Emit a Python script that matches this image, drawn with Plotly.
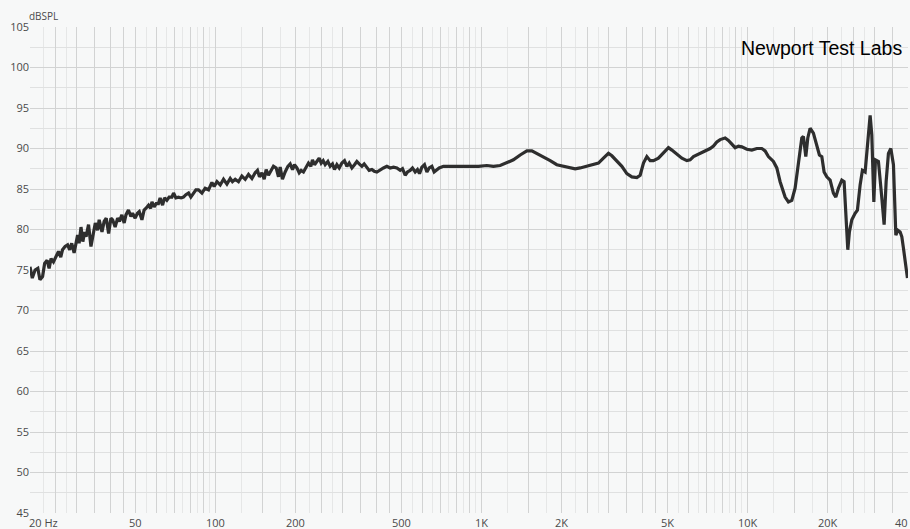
import numpy as np
import plotly.graph_objects as go

# Frequency response, bass band (Hz, dB SPL)
bass_hz = [20.0, 20.4, 20.9, 21.4, 21.8, 22.3, 22.7, 23.2, 23.6, 24.0, 24.5, 25.0, 25.6, 26.1,
           26.5, 27.1, 27.7, 28.2, 28.7, 29.3, 29.8, 30.2, 30.6, 31.1, 31.6, 32.1, 32.5, 33.2,
           33.9, 34.5, 35.2, 35.9, 36.4, 37.3, 38.0, 38.7, 39.5, 40.3, 40.9, 41.8, 42.7, 43.4,
           44.3, 45.2, 45.9, 46.9, 47.9, 48.6, 49.7, 50.7, 51.5, 52.7, 53.7, 54.5, 55.8, 56.8,
           57.5, 58.6, 59.6, 60.8, 61.7, 63.0, 64.1, 65.4, 66.7, 68.3, 69.3, 70.7, 72.3, 74.0,
           75.5, 77.1, 78.9, 80.5, 82.4, 84.1, 86.0]
bass_db = [75.4, 74.0, 75.0, 75.2, 73.8, 74.2, 75.8, 76.2, 75.2, 76.4, 76.0, 76.6, 77.3, 76.6,
           77.5, 77.9, 78.1, 77.5, 78.3, 77.1, 78.7, 79.3, 78.3, 80.3, 78.5, 79.7, 79.1, 80.6,
           77.9, 79.3, 80.8, 79.9, 81.2, 79.7, 81.0, 81.4, 79.5, 81.4, 81.2, 80.3, 81.4, 81.0,
           81.8, 80.8, 81.8, 82.4, 81.6, 82.0, 81.4, 82.0, 82.2, 81.2, 82.4, 82.6, 83.0, 82.6,
           83.4, 82.8, 83.2, 83.2, 83.9, 83.0, 83.9, 83.6, 84.0, 84.0, 84.5, 83.9, 84.0, 83.9,
           84.0, 84.3, 84.5, 84.0, 84.5, 84.9, 84.9]

# Midrange band
mid_hz = [88.6, 91.1, 93.8, 96.6, 98.5, 100.9, 103.8, 106.8, 110.0, 113.2, 115.4, 118.2, 121.6,
          125.2, 128.9, 132.6, 136.6, 140.5, 143.3, 145.8, 148.9, 151.9, 154.5, 157.6, 160.9,
          164.6, 168.5, 171.9, 174.4, 177.9, 182.1, 186.5, 190.2, 194.1, 197.4, 201.6, 205.6,
          209.2, 213.4, 217.9, 222.8, 227.5, 230.7, 234.8, 239.6, 244.5, 248.8, 253.1, 257.5,
          263.6, 268.9, 274.3, 279.1, 285.0, 290.8, 297.6, 304.4, 310.8, 317.0, 324.5, 331.9,
          338.8, 345.7, 353.9, 361.0, 369.5, 376.9, 385.8, 393.6, 402.9, 414.5, 426.6, 439.3,
          452.1, 465.2, 479.1, 493.0, 502.9, 514.8, 525.1, 537.5, 548.3, 561.3, 572.6, 582.6,
          594.9, 608.4, 621.2, 633.7, 648.6, 661.6, 677.2, 690.9, 717.1, 771.3, 840.8, 917.0,
          970.7]
mid_db = [84.5, 85.1, 84.9, 85.8, 85.3, 85.9, 85.5, 86.2, 85.6, 86.3, 85.9, 86.2, 85.9,
          86.6, 86.2, 86.8, 86.3, 87.0, 87.3, 86.5, 87.0, 86.2, 87.4, 86.7, 87.3,
          87.8, 87.6, 86.5, 87.7, 86.2, 87.1, 87.8, 88.1, 87.4, 88.0, 87.6, 87.0,
          87.3, 87.1, 87.6, 88.2, 87.8, 88.6, 88.0, 88.4, 88.8, 88.2, 88.5, 88.0,
          88.4, 87.8, 88.1, 87.4, 88.0, 87.6, 88.2, 88.5, 87.8, 88.2, 87.6, 88.0,
          88.4, 88.1, 87.8, 88.1, 87.7, 87.3, 87.4, 87.2, 87.1, 87.4, 87.6, 87.8,
          87.6, 87.7, 87.6, 87.3, 87.5, 86.7, 87.1, 87.3, 87.6, 87.1, 87.4, 86.9,
          87.7, 88.0, 87.1, 87.6, 87.8, 87.1, 87.4, 87.6, 87.8, 87.8, 87.8, 87.8,
          87.8]

# Presence / treble band
treble_hz = [1044, 1105, 1171, 1241, 1314, 1393, 1476, 1541, 1609, 1704, 1806, 1913, 2025,
             2147, 2242, 2341, 2481, 2627, 2743, 2864, 2991, 3081, 3217, 3359, 3508, 3663,
             3825, 3936, 4050, 4171, 4292, 4416, 4611, 4815, 5028, 5179, 5408, 5647, 5896,
             6067, 6244, 6520, 6808, 7012, 7215, 7424, 7645, 7867, 8214, 8453, 8706, 8958,
             9218, 9490, 9911, 10349, 10806, 11283, 11610, 11947, 12475, 12848]
treble_db = [87.9, 87.8, 87.9, 88.2, 88.6, 89.2, 89.7, 89.7, 89.4, 88.9, 88.5, 88.0, 87.8,
             87.6, 87.5, 87.6, 87.8, 88.0, 88.2, 88.8, 89.4, 89.1, 88.4, 87.8, 86.9, 86.5,
             86.4, 86.7, 88.2, 89.0, 88.5, 88.5, 88.8, 89.4, 90.1, 89.8, 89.3, 88.8, 88.5,
             88.6, 89.0, 89.3, 89.5, 89.7, 90.0, 90.3, 90.8, 91.1, 91.3, 91.0, 90.5, 90.1,
             90.3, 90.2, 89.9, 89.8, 90.0, 90.0, 89.7, 89.0, 88.4, 87.6]

# Air band
air_hz = [13220, 13806, 14206, 14628, 15052, 15488, 15951, 16173, 16512, 16800, 17140, 17636,
          18163, 18578, 18968, 19348, 19807, 20381, 20971, 21411, 21900, 22553, 23005, 23411,
          23756, 24087, 24595, 25307, 25814, 26428, 26960, 27597, 28150, 28818, 29242, 29759,
          30174, 30966, 31888, 32533, 33100, 33770, 34478, 35263, 36003, 36631, 37370, 37924,
          38452, 39023, 39810]
air_db = [85.9, 84.0, 83.4, 83.6, 85.1, 88.0, 91.3, 91.5, 89.0, 91.3, 92.5, 91.9,
          90.4, 89.2, 89.0, 87.1, 86.5, 86.1, 84.5, 84.0, 85.1, 86.1, 85.9, 81.8,
          77.5, 79.7, 81.2, 82.0, 82.4, 85.5, 87.3, 87.1, 90.4, 94.1, 91.7, 83.4,
          88.6, 88.4, 83.9, 80.6, 85.9, 89.4, 90.0, 88.0, 79.3, 79.9, 79.7, 79.1,
          77.7, 76.0, 74.0]

# Axis labelling
y_ticks = [45, 50, 55, 60, 65, 70, 75, 80, 85, 90, 95, 100, 105]
x_label_hz = [20, 50, 100, 200, 500, 1000, 2000, 5000, 10000, 20000, 40000]
x_label_text = ["20 Hz", "50", "100", "200", "500", "1K", "2K", "5K", "10K", "20K", "40"]

# Log-paper grid multipliers per decade
grid_major_mult = [1, 1.5, 2, 2.5, 3, 3.5, 4, 4.5, 5, 6, 7, 8, 9]
grid_minor_mult = [1.25, 1.75, 2.25, 2.75, 5.5, 6.5, 7.5, 8.5, 9.5]
decades = [10, 100, 1000, 10000]

f_min, f_max = 20, 40000
grid_major = [d * m for d in decades for m in grid_major_mult if f_min <= d * m <= f_max]
grid_minor = [d * m for d in decades for m in grid_minor_mult if f_min <= d * m <= f_max]

freq = bass_hz + mid_hz + treble_hz + air_hz
spl = bass_db + mid_db + treble_db + air_db

BG = "#f7f8f8"
LABEL = "#4a4a4a"
tick_font = dict(family="Open Sans", size=11, color=LABEL)

fig = go.Figure()
fig.add_trace(go.Scatter(
    x=freq, y=spl, mode="lines",
    line=dict(color="#2e2e2e", width=3.2),
    hoverinfo="skip", showlegend=False,
))

annotations = []
last = len(x_label_hz) - 1
for i, (f, txt) in enumerate(zip(x_label_hz, x_label_text)):
    if i == 0:
        anchor, shift = "left", -3
    elif i == last:
        anchor, shift = "right", 2
    else:
        anchor, shift = "center", 0
    annotations.append(dict(
        x=np.log10(f), xref="x", y=0, yref="paper",
        text=txt, showarrow=False, yanchor="top",
        xanchor=anchor, xshift=shift, font=tick_font,
    ))
annotations.append(dict(
    x=0, xref="paper", y=1, yref="paper", text="dBSPL", showarrow=False,
    xanchor="left", yanchor="bottom", xshift=-3, yshift=2,
    font=dict(family="Open Sans", size=10, color=LABEL),
))
annotations.append(dict(
    x=1, xref="paper", y=1, yref="paper", text="Newport Test Labs", showarrow=False,
    xanchor="right", yanchor="top", xshift=-4, yshift=-8,
    font=dict(family="Liberation Sans", size=19.5, color="#000000"),
))

fig.update_layout(
    width=910, height=529,
    margin=dict(l=30, r=2, t=27, b=16),
    paper_bgcolor=BG, plot_bgcolor=BG,
    annotations=annotations,
    xaxis=dict(
        type="log", range=[np.log10(f_min), np.log10(f_max)],
        tickmode="array", tickvals=grid_major, showticklabels=False, ticks="",
        showgrid=True, gridcolor="#d2d3d3", gridwidth=1,
        minor=dict(tickmode="array", tickvals=grid_minor, showgrid=True,
                   gridcolor="#e6e7e7", gridwidth=1, ticks=""),
        zeroline=False, showline=False,
    ),
    yaxis=dict(
        range=[45, 105], tickmode="array", tickvals=y_ticks,
        ticktext=[str(v) for v in y_ticks], ticks="",
        tickfont=tick_font,
        showgrid=True, gridcolor="#d2d3d3", gridwidth=1,
        minor=dict(dtick=2.5, showgrid=True, gridcolor="#e0e1e1", gridwidth=1),
        zeroline=False, showline=False,
    ),
)

fig.write_html("out.html")
